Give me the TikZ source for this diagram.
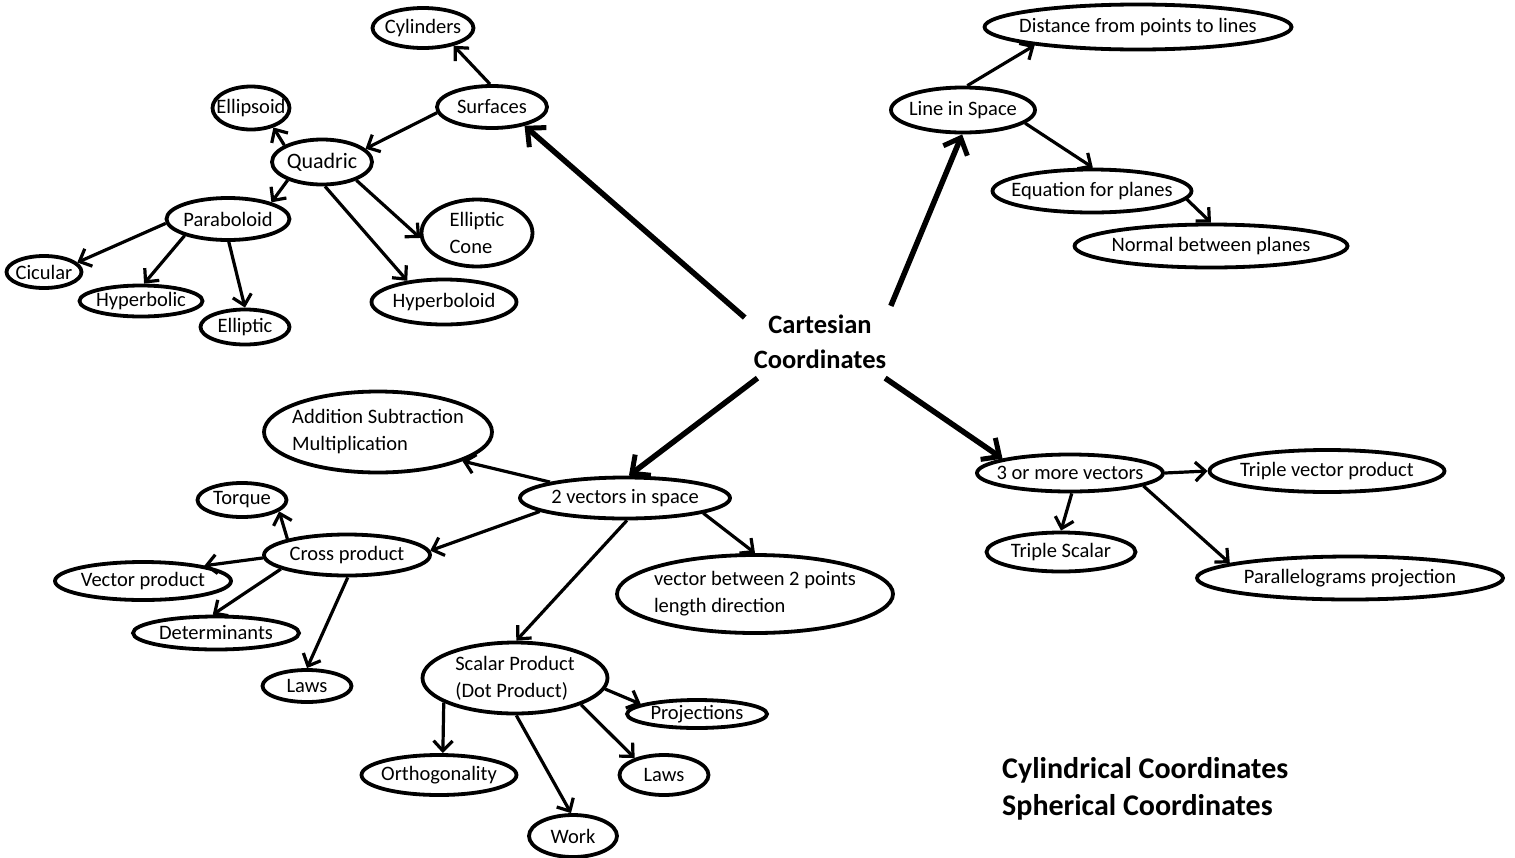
\documentclass[tikz,border=0pt]{standalone}
\usepackage{fontspec}
\setmainfont{Carlito}
\usetikzlibrary{arrows.meta, shapes.geometric}
\tikzset{
    oval/.style 2 args={ellipse, draw, line width=3.8pt, minimum width=#1, minimum height=#2,
                inner xsep=-75pt, inner ysep=-6pt, align=left, font=\fontsize{20.5}{27}\selectfont},
    arrow/.style={-{Straight Barb[length=10pt, width=19pt, line width=3.2pt]}, line width=3.2pt},
    bigarrow/.style={-{Straight Barb[length=14pt, width=26pt, line width=5pt]}, line width=5.5pt},
    title/.style={font=\fontsize{26.5}{35}\selectfont\bfseries, align=center, inner sep=9pt},
    note/.style={font=\fontsize{30}{37}\selectfont\bfseries, align=left, anchor=west, inner sep=0pt},
}
\begin{document}
\begin{tikzpicture}[x=1pt, y=-1pt]
    \useasboundingbox (0,0) rectangle (1515,857);
    % surfaces branch
    \node[oval={101pt}{40pt}] (cyl) at (423,28) {Cylinders};
    \node[oval={110pt}{42pt}] (surf) at (492,107) {Surfaces};
    \node[oval={77pt}{43pt}] (ellsd) at (251,108) {Ellipsoid};
    \node[oval={100pt}{45pt}, font=\fontsize{22}{27}\selectfont] (quad) at (322,162) {Quadric};
    \node[oval={123pt}{42pt}] (parab) at (228,219) {Paraboloid};
    \node[oval={111pt}{67pt}] (econe) at (477,233) {Elliptic\\Cone};
    \node[oval={75pt}{32pt}] (cic) at (44,272) {Cicular};
    \node[oval={123pt}{31pt}] (hypc) at (141,301) {Hyperbolic};
    \node[oval={89pt}{35pt}] (ellc) at (245,327) {Elliptic};
    \node[oval={145pt}{45pt}] (hypd) at (444,302) {Hyperboloid};
    % line branch
    \node[oval={144pt}{45pt}] (line) at (963,110) {Line in Space};
    \node[oval={307pt}{45pt}] (dist) at (1138,27) {Distance from points to lines};
    \node[oval={199pt}{43pt}] (eqn) at (1092,191) {Equation for planes};
    \node[oval={273pt}{43pt}] (norm) at (1211,246) {Normal between planes};
    % centre
    \node[title] (cart) at (820,342) {Cartesian\\Coordinates};
    % two vectors branch
    \node[oval={228pt}{81pt}] (addn) at (378,432) {Addition Subtraction\\Multiplication};
    \node[oval={210pt}{41pt}] (twov) at (625,498) {2 vectors in space};
    \node[oval={89pt}{34pt}] (torq) at (242,500) {Torque};
    \node[oval={166pt}{41pt}] (cross) at (347,555) {Cross product};
    \node[oval={176pt}{38pt}] (vprod) at (143,581) {Vector product};
    \node[oval={166pt}{33pt}] (det) at (216,633) {Determinants};
    \node[oval={89pt}{32pt}] (lawsc) at (307,686) {Laws};
    \node[oval={276pt}{78pt}] (vbtw) at (755,594) {vector between 2 points\\length direction};
    \node[oval={185pt}{71pt}] (scal) at (515,678) {Scalar Product\\(Dot Product)};
    \node[oval={140pt}{28pt}] (proj) at (697,714) {Projections};
    \node[oval={155pt}{40pt}] (orth) at (439,775) {Orthogonality};
    \node[oval={89pt}{40pt}] (lawsd) at (664,775) {Laws};
    \node[oval={88pt}{42pt}] (work) at (573,836) {Work};
    % three vectors branch
    \node[oval={186pt}{37pt}] (three) at (1070,473) {3 or more vectors};
    \node[oval={235pt}{42pt}] (tvp) at (1327,471) {Triple vector product};
    \node[oval={149pt}{39pt}] (tsc) at (1061,552) {Triple Scalar};
    \node[oval={306pt}{43pt}] (para) at (1350,578) {Parallelograms projection};
    \node[note] (other) at (1002,789) {Cylindrical Coordinates\\Spherical Coordinates};
    % heavy arrows out of the centre
    \draw[bigarrow] (cart.162) -- (surf.-30);
    \draw[bigarrow] (cart.27) -- (line.-92);
    \draw[bigarrow] (cart.210) -- (twov.80);
    \draw[bigarrow] (cart.-29) -- (three.168);
    % arrows
    \draw[arrow] (surf.95) -- (cyl.-30);
    \draw[arrow] (surf.186) -- (quad.17);
    \draw[arrow] (quad.156) -- (ellsd.-41);
    \draw[arrow] (quad.208) -- (parab.21);
    \draw[arrow] (quad.-28) -- (econe.185);
    \draw[arrow] (quad.-83) -- (hypd.150);
    \draw[arrow] (parab.184) -- (cic.16);
    \draw[arrow] (parab.201) -- (hypc.80);
    \draw[arrow] (parab.-88) -- (ellc.90);
    \draw[arrow] (line.80) -- (dist.190);
    \draw[arrow] (line.-12) -- (eqn.88);
    \draw[arrow] (eqn.-5) -- (norm.90);
    \draw[arrow] (twov.168) -- (addn.-19);
    \draw[arrow] (twov.189) -- (cross.3);
    \draw[arrow] (twov.-85) -- (scal.88);
    \draw[arrow] (twov.-11) -- (vbtw.90);
    \draw[arrow] (cross.165) -- (torq.-17);
    \draw[arrow] (cross.182) -- (vprod.14);
    \draw[arrow] (cross.192) -- (det.100);
    \draw[arrow] (cross.-88) -- (lawsc.90);
    \draw[arrow] (scal.-7) -- (proj.170);
    \draw[arrow] (scal.199) -- (orth.80);
    \draw[arrow] (scal.-88) -- (work.95);
    \draw[arrow] (scal.-22) -- (lawsd.150);
    \draw[arrow] (three.0) -- (tvp.180);
    \draw[arrow] (three.-85) -- (tsc.90);
    \draw[arrow] (three.-10) -- (para.173);
\end{tikzpicture}
\end{document}
